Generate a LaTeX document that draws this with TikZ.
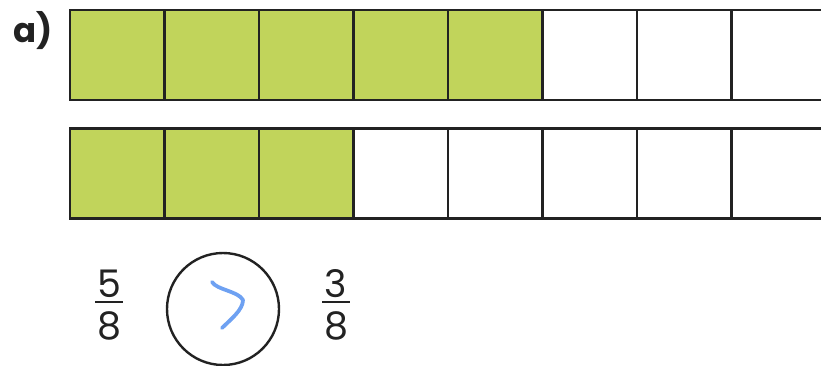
\documentclass[tikz,border=0pt]{standalone}
\usepackage{fontspec}
\setmainfont{Poppins}
\usepackage{tikz}
\usetikzlibrary{positioning}
\definecolor{barfill}{HTML}{C1D45B}
\definecolor{penblue}{HTML}{6EA1F2}
\definecolor{inkdark}{HTML}{222222}
\tikzset{
  cell/.style={draw=inkdark, line width=2.6pt, minimum width=94.5pt,
    minimum height=90pt, inner sep=0pt, outer sep=0pt},
  shaded/.style={cell, fill=barfill},
  fracbar/.style={fill=inkdark, minimum width=28pt, minimum height=2.6pt, inner sep=0pt},
  digit/.style={font=\fontsize{38}{38}\selectfont, text=inkdark, inner sep=0pt},
  partlabel/.style={font=\fontsize{34}{34}\selectfont\bfseries, text=inkdark, inner sep=0pt},
  cmpcircle/.style={circle, draw=inkdark, line width=2.4pt, minimum size=112pt, inner sep=0pt},
  pen/.style={draw=penblue, line width=3.8pt, line cap=round, line join=round}
}

\begin{document}
\begin{tikzpicture}[x=1pt, y=-1pt]
    \useasboundingbox (0,0) rectangle (821,365);
    \clip (0,0) rectangle (821,365);

    \node[partlabel] (parta) at (33,31) {a)};

    % bar models
    \foreach \i/\s in {1/shaded,2/shaded,3/shaded,4/shaded,5/shaded,6/cell,7/cell,8/cell}
        \node[\s] (top\i) at ({70+(\i-0.5)*94.5},55) {};
    \foreach \i/\s in {1/shaded,2/shaded,3/shaded,4/cell,5/cell,6/cell,7/cell,8/cell}
        \node[\s] (bot\i) at ({70+(\i-0.5)*94.5},173.5) {};

    % fractions
    \node[fracbar] (lbar) at (109,302) {};
    \node[digit, above=3pt of lbar] (lnum) {5};
    \node[digit, below=8pt of lbar] (lden) {8};
    \node[fracbar] (rbar) at (336,302) {};
    \node[digit, above=3pt of rbar] (rnum) {3};
    \node[digit, below=8pt of rbar] (rden) {8};

    \node[cmpcircle] (cmp) at (223,309) {};
    \draw[pen] (212,282) .. controls (217,290) and (238,291) .. (243,300)
        .. controls (243,310) and (230,320) .. (222,328);
\end{tikzpicture}
\end{document}
